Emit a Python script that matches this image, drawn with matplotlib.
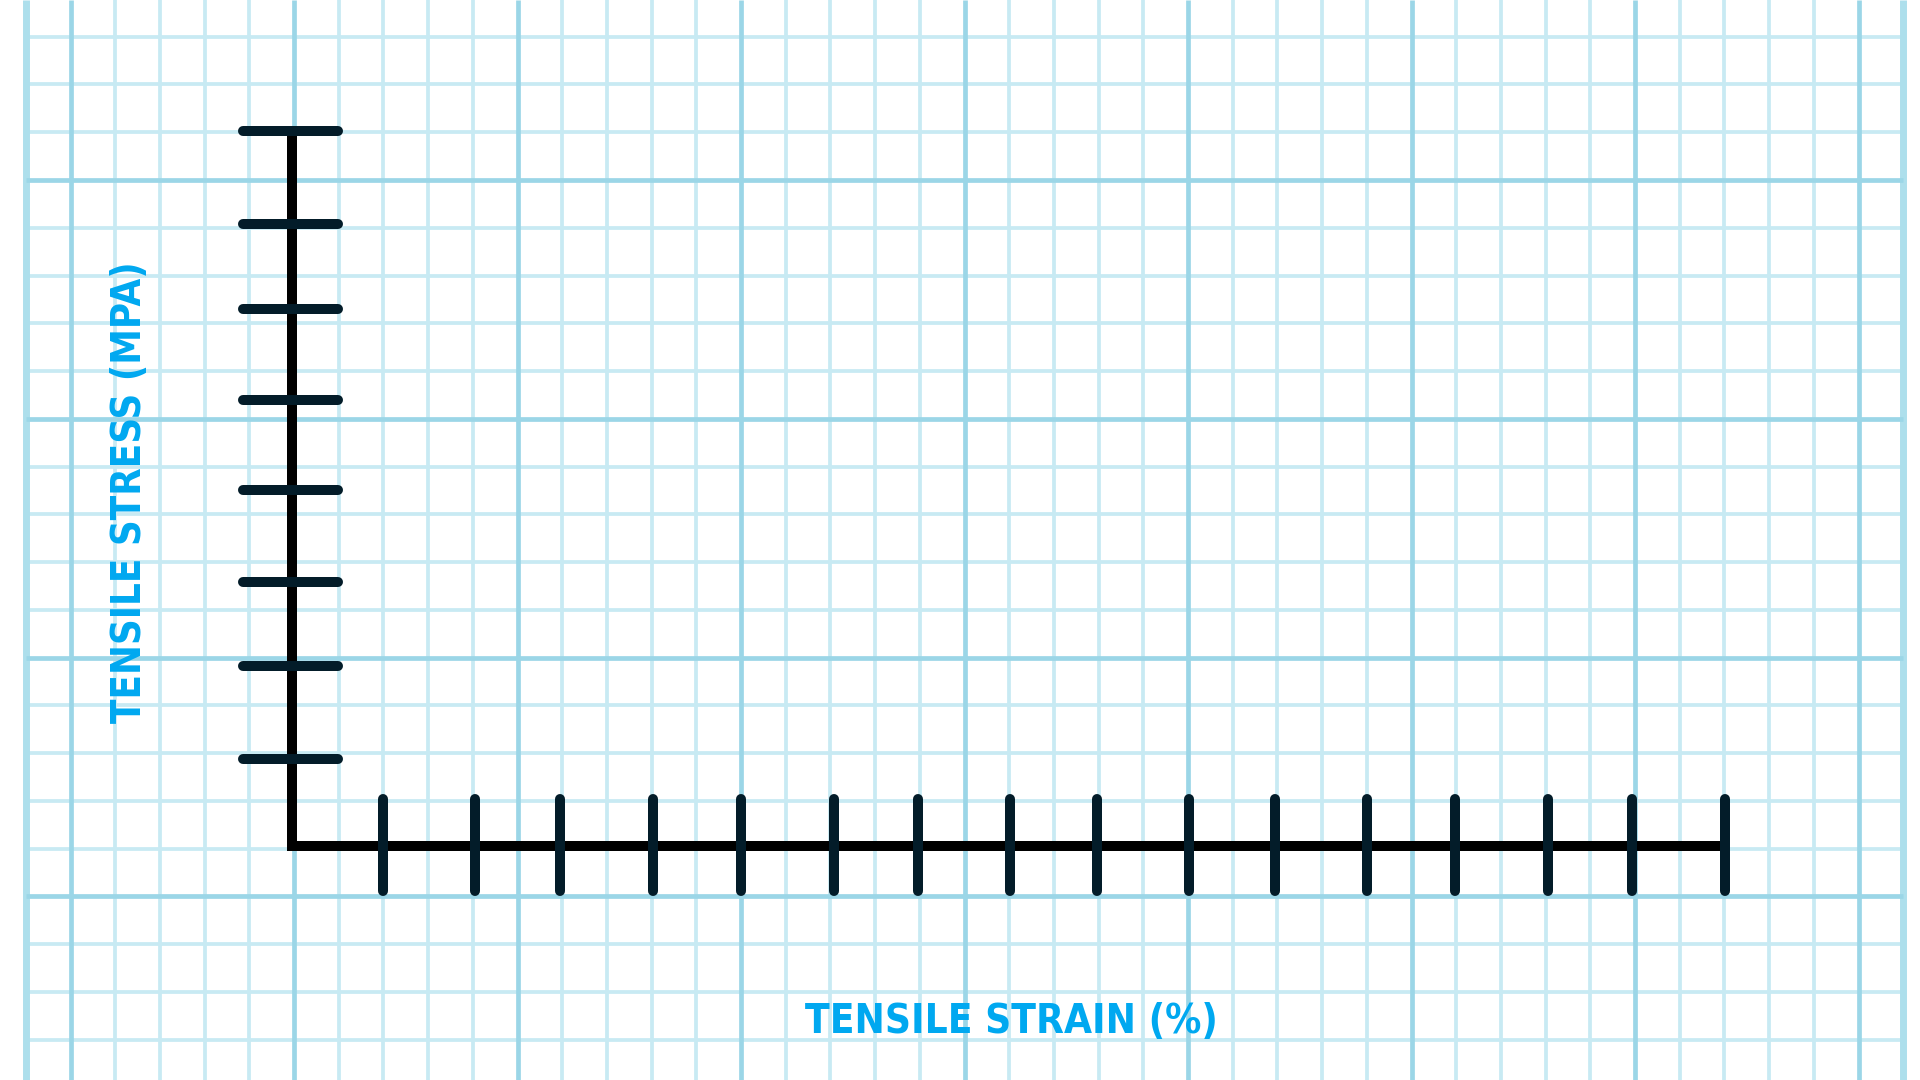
import numpy as np
import matplotlib
matplotlib.use('Agg')
import matplotlib.pyplot as plt
from matplotlib import font_manager as fm

# chart content (pixel positions of the hand drawn ticks)
x_label = 'TENSILE STRAIN (%)'
y_label = 'TENSILE STRESS (MPA)'
x_ticks = [383, 475, 560, 653, 741, 834, 918, 1010, 1097, 1189, 1275, 1367, 1455, 1548, 1632, 1725]
y_ticks = [131, 224, 309, 400, 490, 582, 666, 759]
origin = (292, 846)


def pick_font():
    # narrowest bold face we can find
    order = {'ultra-condensed': 0, 'extra-condensed': 1, 'condensed': 2,
             'semi-condensed': 3}
    best = None
    for f in fm.fontManager.ttflist:
        bold = f.weight in ('bold', 'heavy', 'black', 'extra bold', 'semibold') or \
            (isinstance(f.weight, int) and f.weight >= 600)
        narrow = f.stretch in order or 'Condensed' in f.name or 'Narrow' in f.name
        if not (bold and narrow) or 'Mono' in f.name or 'CJK' in f.name:
            continue
        rank = order.get(f.stretch, 2)
        if 'Narrow' in f.name or 'Condensed' in f.name:
            rank = min(rank, 2)
        if best is None or rank < best[0]:
            best = (rank, f.fname)
    if best:
        return fm.FontProperties(fname=best[1])
    return fm.FontProperties(family='DejaVu Sans', weight='bold')


fig = plt.figure(figsize=(19.2, 10.8), dpi=100)
ax = fig.add_axes([0, 0, 1, 1])
ax.set_xlim(0, 1920)
ax.set_ylim(1080, 0)
ax.axis('off')

# graph paper
x0, dx = 25.8, 44.7
y0, dy = 36.7, 47.76
xs = x0 + dx * np.arange(43)
ys = y0 + dy * np.arange(22)
for i, x in enumerate(xs):
    if i in (0, len(xs) - 1):
        ax.vlines(x, 0, 1080, color='#addfec', lw=5.0, zorder=1)
    elif i % 5 == 1:
        ax.vlines(x, 0, 1080, color='#9bd6e7', lw=3.4, zorder=1)
    else:
        ax.vlines(x, 0, 1080, color='#c8eaf3', lw=2.7, zorder=0)
for i, y in enumerate(ys):
    if i % 5 == 3:
        ax.hlines(y, xs[0], xs[-1], color='#9bd6e7', lw=3.4, zorder=1)
    else:
        ax.hlines(y, xs[0], xs[-1], color='#c8eaf3', lw=2.7, zorder=0)

# axes lines
ox, oy = origin
ax.plot([ox, ox, x_ticks[-1]], [y_ticks[0], oy, oy], color='black', lw=7.2,
        solid_joinstyle='miter', solid_capstyle='butt', zorder=3)

# ticks
tick_col = '#031c29'
for x in x_ticks:
    ax.plot([x, x], [oy - 47, oy + 45], color=tick_col, lw=7.2,
            solid_capstyle='round', zorder=4)
for y in y_ticks:
    ax.plot([ox - 49, ox + 46], [y, y], color=tick_col, lw=7.2,
            solid_capstyle='round', zorder=4)

# labels
fp = pick_font()
txt_col = '#00a8f0'
tx = ax.text(1011, 1022, x_label, fontproperties=fp, fontsize=40, color=txt_col,
             ha='center', va='center', zorder=5)
ty = ax.text(130, 492, y_label, fontproperties=fp, fontsize=40, color=txt_col,
             ha='center', va='center', rotation=90, zorder=5)

# fit the label lengths to the drawing
fig.canvas.draw()
r = fig.canvas.get_renderer()
w = tx.get_window_extent(r).width
tx.set_fontsize(40 * 412 / w)
h = ty.get_window_extent(r).height
ty.set_fontsize(40 * 461 / h)

fig.savefig('out.png', dpi=100, facecolor='white')
